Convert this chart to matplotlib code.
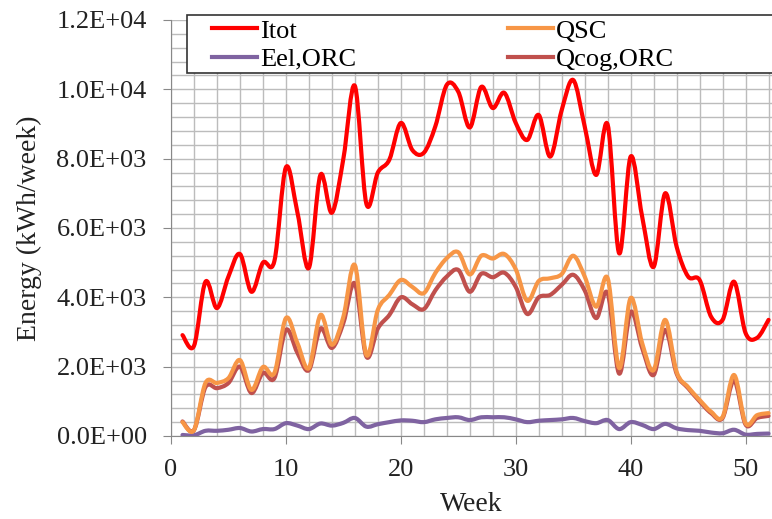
import numpy as np
import matplotlib.pyplot as plt
from matplotlib.path import Path
from matplotlib.patches import PathPatch, Rectangle
from matplotlib.lines import Line2D
from matplotlib.ticker import MultipleLocator, FuncFormatter

plt.rcParams['font.family'] = ['Liberation Serif', 'DejaVu Serif']

weeks = np.arange(1, 53)

itot = [2.91, 2.60, 4.45, 3.69, 4.60, 5.25, 4.16, 5.00, 5.05, 7.75,
        6.45, 4.85, 7.53, 6.44, 8.00, 10.10, 6.70, 7.60, 7.97, 9.03,
        8.25, 8.17, 8.93, 10.13, 9.93, 8.90, 10.07, 9.46, 9.90, 9.03,
        8.54, 9.26, 8.06, 9.40, 10.27, 8.93, 7.53, 8.98, 5.27, 8.06,
        6.33, 4.88, 7.00, 5.46, 4.60, 4.50, 3.44, 3.35, 4.45, 2.97,
        2.83, 3.35]
qsc = [0.40, 0.17, 1.53, 1.53, 1.67, 2.19, 1.33, 1.99, 1.82, 3.40,
       2.68, 1.96, 3.49, 2.63, 3.44, 4.93, 2.34, 3.64, 4.07, 4.50,
       4.30, 4.12, 4.70, 5.13, 5.30, 4.66, 5.20, 5.12, 5.25, 4.81,
       3.90, 4.47, 4.55, 4.67, 5.20, 4.60, 3.73, 4.55, 1.96, 3.98,
       2.68, 1.90, 3.35, 1.85, 1.41, 1.04, 0.70, 0.55, 1.76, 0.37,
       0.60, 0.66]
qcog = [0.42, 0.17, 1.41, 1.38, 1.53, 2.00, 1.24, 1.82, 1.67, 3.06,
        2.40, 1.90, 3.10, 2.54, 3.26, 4.40, 2.29, 3.10, 3.49, 4.00,
        3.80, 3.66, 4.20, 4.60, 4.79, 4.16, 4.68, 4.58, 4.71, 4.30,
        3.52, 4.00, 4.07, 4.36, 4.65, 4.20, 3.40, 4.12, 1.80, 3.58,
        2.54, 1.76, 3.06, 1.80, 1.38, 1.00, 0.66, 0.52, 1.60, 0.33,
        0.52, 0.58]
eel = [0.03, 0.02, 0.15, 0.15, 0.18, 0.23, 0.13, 0.20, 0.20, 0.37,
       0.30, 0.20, 0.36, 0.30, 0.38, 0.52, 0.27, 0.34, 0.40, 0.45,
       0.44, 0.40, 0.48, 0.52, 0.54, 0.46, 0.54, 0.54, 0.54, 0.48,
       0.40, 0.44, 0.46, 0.48, 0.52, 0.43, 0.37, 0.46, 0.20, 0.40,
       0.32, 0.20, 0.35, 0.22, 0.17, 0.15, 0.10, 0.08, 0.18, 0.04,
       0.06, 0.07]

series = [
    ("Itot", itot, "#ff0000"),
    ("Eel,ORC", eel, "#7f63a1"),
    ("QSC", qsc, "#f79646"),
    ("Qcog,ORC", qcog, "#c0504d"),
]


def smooth_path(x, y):
    # excel style smoothed line (catmull-rom -> bezier)
    p = np.column_stack([x, y])
    verts = [p[0]]
    codes = [Path.MOVETO]
    n = len(p)
    for i in range(n - 1):
        p0 = p[max(i - 1, 0)]
        p1 = p[i]
        p2 = p[i + 1]
        p3 = p[min(i + 2, n - 1)]
        verts += [p1 + (p2 - p0) / 6, p2 - (p3 - p1) / 6, p2]
        codes += [Path.CURVE4] * 3
    return Path(verts, codes)


fig = plt.figure(figsize=(7.72, 5.19), dpi=100)
ax = fig.add_axes([171 / 772, 1 - 436 / 519, 601 / 772, 416 / 519])

draw_order = ["Itot", "QSC", "Qcog,ORC", "Eel,ORC"]
handles = {}
for name, vals, col in series:
    y = np.array(vals) * 1000
    patch = PathPatch(smooth_path(weeks, y), fill=False, edgecolor=col,
                      lw=3.0, capstyle='round', joinstyle='round',
                      zorder=3 + draw_order[::-1].index(name))
    ax.add_patch(patch)
    handles[name] = Line2D([], [], color=col, lw=3.0)

ax.set_xlim(0, 52.3)
ax.set_ylim(0, 12000)
ax.xaxis.set_major_locator(MultipleLocator(10))
ax.xaxis.set_minor_locator(MultipleLocator(2))
ax.yaxis.set_major_locator(MultipleLocator(2000))
ax.yaxis.set_minor_locator(MultipleLocator(400))
ax.yaxis.set_major_formatter(FuncFormatter(lambda v, p: f"{v:.1E}"))
ax.grid(True, which='both', color='#bcbcbc', lw=1.0)
ax.tick_params(which='minor', length=0)
ax.tick_params(which='major', length=5.5, color='#888888', labelsize=19,
               labelcolor='#222222', direction='out')
ax.tick_params(axis='y', pad=12)
ax.tick_params(axis='x', pad=11)
ax.set_axisbelow(True)
for s in ['top', 'right']:
    ax.spines[s].set_visible(False)
for s in ['left', 'bottom']:
    ax.spines[s].set_color('#888888')

ax.set_xlabel("Week", fontsize=20, color='#222222', labelpad=8)
ax.set_ylabel("Energy (kWh/week)", fontsize=20, color='#222222', labelpad=10)

# legend frame runs off the right edge like in the original
frame = Rectangle((0.0266, 0.8726), 1.1, 0.1394, transform=ax.transAxes,
                  facecolor='white', edgecolor='#333333', lw=1.2,
                  clip_on=False, zorder=9)
ax.add_patch(frame)

labels = ["Itot", "Eel,ORC", "QSC", "Qcog,ORC"]
leg = ax.legend([handles[l] for l in labels], labels, ncol=2,
                loc='upper left', bbox_to_anchor=(0.068, 1.002),
                fontsize=19, frameon=False, borderpad=0,
                handlelength=1.7, handletextpad=0.12, columnspacing=5.75,
                labelspacing=0.18, borderaxespad=0)
leg.set_zorder(10)

fig.savefig("out.png", dpi=100)
